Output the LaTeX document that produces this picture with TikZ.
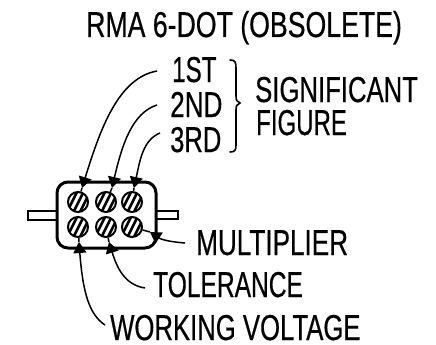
\documentclass[tikz,border=0pt]{standalone}
\usepackage{fontspec}
\usepackage{graphicx}
\setmainfont[FakeStretch=0.78,FakeBold=0.5]{Liberation Sans}
\usetikzlibrary{arrows.meta}
\newcommand{\wdx}[2]{\scalebox{#1}[1]{#2}}
\tikzset{
  lbl/.style={inner sep=0pt,font=\fontsize{36}{36}\selectfont,text=black,anchor=base west},
  hatchdot/.style={circle,draw=black,line width=2pt,minimum size=20pt,inner sep=0pt,
    path picture={\foreach \d in {-13,-6.5,0,6.5}{
      \draw[line width=2.6pt] ([xshift=\d pt,yshift=-14pt]path picture bounding box.center) -- ++(14pt,28pt);}}},
  conn/.style={line width=1.5pt,black},
  head/.style={conn,-{Triangle[length=11pt,width=13pt]}},
  body/.style={line width=3pt,black,rounded corners=11pt},
  pin/.style={line width=2pt,black,fill=white}
}
\begin{document}
\begin{tikzpicture}[x=1pt,y=-1pt]
\useasboundingbox (0,0) rectangle (436,345);
\fill[white] (0,0) rectangle (436,345);
\node[lbl] (title) at (86,37) {\wdx{0.95}{RMA 6-DOT (OBSOLETE)}};
\node[lbl] (first) at (172,82) {\wdx{0.86}{1ST}};
\node[lbl] (second) at (170,117) {\wdx{0.93}{2ND}};
\node[lbl] (third) at (170,152) {\wdx{0.91}{3RD}};
\node[lbl] (sig) at (255,102) {\wdx{0.915}{SIGNIFICANT}};
\node[lbl] (fig) at (256,135) {\wdx{0.855}{FIGURE}};
\node[lbl] (mult) at (196,255) {\wdx{0.93}{MULTIPLIER}};
\node[lbl] (tol) at (153,297) {\wdx{0.875}{TOLERANCE}};
\node[lbl] (wv) at (110,340) {\wdx{0.915}{WORKING VOLTAGE}};

\draw[pin] (28,211) rectangle (58,220);
\draw[pin] (156,211) rectangle (178,219);
\draw[body,fill=white] (57,182) rectangle (156,248);

\node[hatchdot] (d1) at (78,202) {};
\node[hatchdot] (d2) at (106,202) {};
\node[hatchdot] (d3) at (132,202) {};
\node[hatchdot] (d4) at (78,227) {};
\node[hatchdot] (d5) at (106,227) {};
\node[hatchdot] (d6) at (132,227) {};

\coordinate (s1) at (157,71);
\coordinate (s2) at (157,105);
\coordinate (s3) at (160,133);
\coordinate (s4) at (185,243);
\coordinate (s5) at (145,288);
\coordinate (s6) at (105,325);
\coordinate (t1) at (82,188);
\coordinate (t2) at (112,188);
\coordinate (t3) at (134,188);
\coordinate (t4) at (150,232);
\coordinate (t5) at (109,242);
\coordinate (t6) at (79,242);

\draw[head] (s1) .. controls (118,78) and (100,130) .. (t1);
\draw[head] (s2) .. controls (132,113) and (122,145) .. (t2);
\draw[head] (s3) .. controls (143,140) and (140,160) .. (t3);
\draw[head] (s4) .. controls (172,242) and (162,240) .. (t4);
\draw[head] (s5) .. controls (125,285) and (117,268) .. (t5);
\draw[head] (s6) .. controls (90,315) and (83,295) .. (t6);
\draw[conn] (t1) -- (d1);
\draw[conn] (t2) -- (d2);
\draw[conn] (t3) -- (d3);
\draw[conn] (t4) -- (d6);
\draw[conn] (t5) -- (d5);
\draw[conn] (t6) -- (d4);

\draw[line width=1.6pt,line cap=round] (230,60) .. controls (235,60) and (236,62) .. (236,68)
  -- (236,96) .. controls (236,100) and (237,102) .. (240,103)
  .. controls (237,104) and (236,106) .. (236,110)
  -- (236,145) .. controls (236,150) and (235,152) .. (230,152);
\end{tikzpicture}
\end{document}
